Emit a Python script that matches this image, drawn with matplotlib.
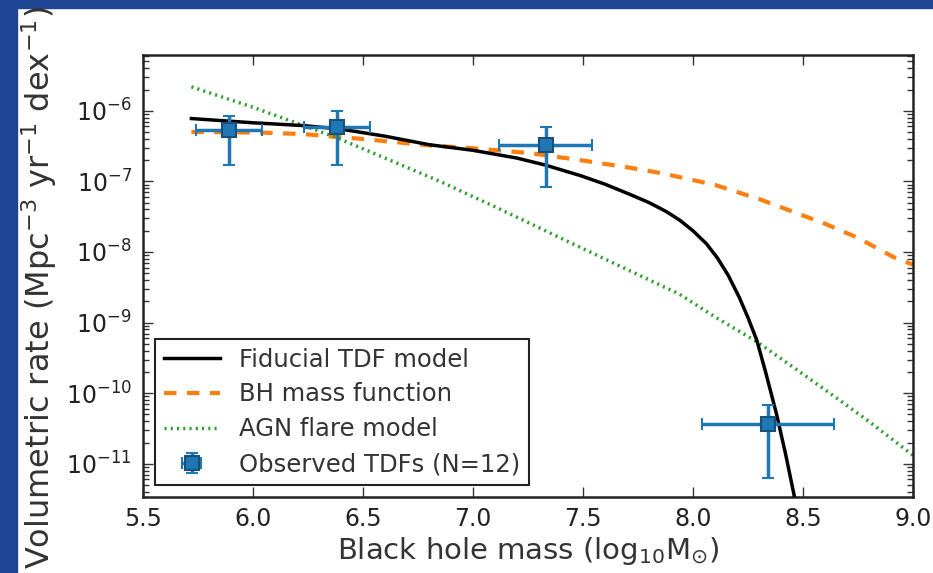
import numpy as np
import matplotlib
matplotlib.use('Agg')
import matplotlib.pyplot as plt
from matplotlib.patches import Rectangle
from matplotlib.container import ErrorbarContainer
from matplotlib.legend_handler import HandlerErrorbar

# observed TDF rates (log10 M_bh, volumetric rate)
mass_obs = [5.89, 6.38, 7.33, 8.34]
mass_err = [0.15, 0.15, 0.21, 0.30]
rate_obs = [5.4e-7, 5.9e-7, 3.3e-7, 3.7e-11]
rate_hi = [8.5e-7, 1.0e-6, 5.8e-7, 6.8e-11]
rate_lo = [1.7e-7, 1.7e-7, 8.3e-8, 6.3e-12]

# fiducial TDF model (log10 rate)
tdf_mass = [5.72, 6.0, 6.23, 6.4, 6.6, 6.8, 7.0, 7.2, 7.33, 7.49, 7.6, 7.71, 7.8,
            7.88, 7.94, 8.0, 8.06, 8.11, 8.16, 8.21, 8.25, 8.29, 8.33, 8.38, 8.42, 8.47]
tdf_lograte = [-6.11, -6.17, -6.21, -6.26, -6.36, -6.48, -6.56, -6.67, -6.77, -6.92,
               -7.04, -7.18, -7.30, -7.43, -7.55, -7.70, -7.88, -8.08, -8.33, -8.64,
               -8.93, -9.25, -9.70, -10.30, -10.85, -11.6]

# BH mass function
bhmf_mass = [5.72, 6.05, 6.23, 6.5, 6.8, 7.0, 7.26, 7.49, 7.7, 7.85, 7.94, 8.1,
             8.3, 8.455, 8.6, 8.75, 8.91, 9.0]
bhmf_lograte = [-6.30, -6.31, -6.33, -6.40, -6.49, -6.53, -6.60, -6.70, -6.80, -6.88,
                -6.94, -7.05, -7.25, -7.43, -7.60, -7.80, -8.07, -8.18]

# AGN flare model
agn_mass = [5.72, 6.0, 6.38, 6.6, 6.85, 7.1, 7.37, 7.6, 7.94, 8.1, 8.29, 8.45,
            8.6, 8.8, 9.0]
agn_lograte = [-5.66, -5.95, -6.38, -6.67, -7.0, -7.36, -7.76, -8.1, -8.6, -8.92,
               -9.27, -9.62, -9.95, -10.4, -10.88]

xticks = [5.5, 6.0, 6.5, 7.0, 7.5, 8.0, 8.5, 9.0]

plt.rcParams['font.family'] = 'DejaVu Sans'
plt.rcParams['mathtext.fontset'] = 'dejavusans'

fig = plt.figure(figsize=(9.33, 5.73), dpi=100)
fig.patch.set_facecolor('white')
# slide background strips
blue = '#1d4594'
fig.patches.append(Rectangle((0, 0), 17 / 933, 1, transform=fig.transFigure,
                             color=blue, zorder=-10))
fig.patches.append(Rectangle((0, 1 - 8 / 573), 1, 8 / 573, transform=fig.transFigure,
                             color=blue, zorder=-10))

ax = fig.add_axes([143 / 933, 76 / 573, 770 / 933, 442 / 573])

ax.plot(tdf_mass, 10 ** np.array(tdf_lograte), color='black', lw=2.5,
        label='Fiducial TDF model', zorder=3)
ax.plot(bhmf_mass, 10 ** np.array(bhmf_lograte), color='#ff7f0e', lw=3,
        ls=(0, (3, 2.5)), label='BH mass function', zorder=2)
ax.plot(agn_mass, 10 ** np.array(agn_lograte), color='#2ca02c', lw=2.5,
        ls=(0, (0.6, 1.2)), label='AGN flare model', zorder=2)

rate_obs = np.array(rate_obs)
yerr = [rate_obs - np.array(rate_lo), np.array(rate_hi) - rate_obs]
ax.errorbar(mass_obs, rate_obs, xerr=mass_err, yerr=yerr, fmt='s', color='#1f77b4',
            mec='#1a4f7a', mew=1.5, ms=10, elinewidth=2.5, capsize=4, capthick=1.5,
            label='Observed TDFs (N=12)', zorder=4)

ax.set_yscale('log')
ax.set_xlim(5.5, 9.0)
ax.set_ylim(10 ** -11.47, 10 ** -5.21)
ax.set_xticks(xticks)
ax.set_xticklabels([f'{t:.1f}' for t in xticks])
ax.tick_params(which='both', direction='in', top=True, right=True, labelsize=17,
               color='#333333', labelcolor='#222222')
ax.tick_params(which='major', length=7, width=1)
ax.tick_params(which='minor', length=4, width=1)
ax.tick_params(axis='x', pad=7)
ax.tick_params(axis='y', pad=8)
for s in ax.spines.values():
    s.set_linewidth(1.8)
    s.set_color('#222222')

ax.set_xlabel(r'Black hole mass (log$_{10}$M$_{\odot}$)', fontsize=21, color='#333333')
ax.set_ylabel(r'Volumetric rate (Mpc$^{-3}$ yr$^{-1}$ dex$^{-1}$)', fontsize=23,
              color='#333333')
ax.yaxis.set_label_coords(-0.109, 0.474)
ax.xaxis.set_label_coords(0.5, -0.085)

leg = ax.legend(loc='lower left', fontsize=17.5, fancybox=False, framealpha=1,
                edgecolor='#222222', handlelength=2.3, handletextpad=0.8,
                borderaxespad=0.5, labelspacing=0.45, borderpad=0.35,
                handler_map={ErrorbarContainer: HandlerErrorbar(xerr_size=0.4,
                                                                yerr_size=0.4)})
leg.get_frame().set_linewidth(1.5)
for t in leg.get_texts():
    t.set_color('#333333')

fig.savefig('out.png', dpi=100)
